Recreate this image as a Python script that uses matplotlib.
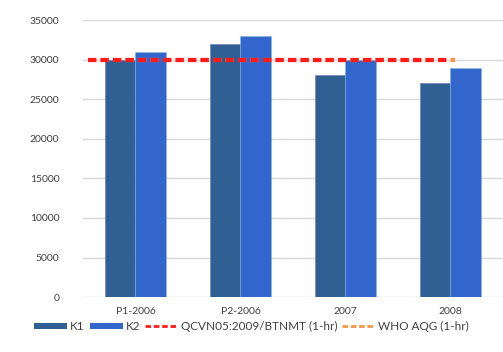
import matplotlib
matplotlib.use("Agg")
import matplotlib.pyplot as plt
import numpy as np
from matplotlib.patches import Patch
from matplotlib.lines import Line2D

categories = ["P1-2006", "P2-2006", "2007", "2008"]
k1 = [30000, 32000, 28000, 27000]
k2 = [31000, 33000, 30000, 29000]
qcvn = 30000
who = 30000

plt.rcParams['font.family'] = ['Lato', 'DejaVu Sans']

fig = plt.figure(figsize=(5.03, 3.52), dpi=100)
ax = fig.add_axes([0.165, 0.156, 0.835, 0.787])

x = np.arange(len(categories))
w = 0.29
c_k1 = "#2F5F93"
c_k2 = "#3366CC"
ax.bar(x - w / 2, k1, w, color=c_k1, edgecolor="#6E78B8", linewidth=0.4, zorder=2)
ax.bar(x + w / 2, k2, w, color=c_k2, edgecolor="#7FB8DA", linewidth=0.4, zorder=2)

ax.hlines(who, -0.45, 3.04, colors="#F79646", linestyles=(0, (2.0, 1.0)), linewidth=3, zorder=3)
ax.hlines(qcvn, -0.45, 2.97, colors="#FF1A1A", linestyles=(0, (2.0, 1.0)), linewidth=3, zorder=4)

ax.set_xlim(-0.5, 3.5)
ax.set_ylim(0, 35000)
ax.set_yticks(np.arange(0, 35001, 5000))
ax.set_xticks(x)
ax.set_xticklabels(categories)
ax.yaxis.grid(True, color="#D9D9D9", linewidth=1, zorder=0)
ax.set_axisbelow(True)
for s in ax.spines.values():
    s.set_visible(False)
ax.tick_params(length=0, labelsize=7.5, colors="#404040")
ax.tick_params(axis="y", pad=17)
ax.tick_params(axis="x", pad=7)

handles = [
    Patch(facecolor=c_k1, label="K1"),
    Patch(facecolor=c_k2, label="K2"),
    Line2D([], [], color="#FF1A1A", linestyle=(0, (2.0, 1.0)), linewidth=2, label="QCVN05:2009/BTNMT (1-hr)"),
    Line2D([], [], color="#F79646", linestyle=(0, (2.0, 1.0)), linewidth=2, label="WHO AQG (1-hr)"),
]
fig.legend(handles=handles, loc="center", bbox_to_anchor=(0.5, 0.072), ncol=4, frameon=False,
           fontsize=8.5, handlelength=2.8, handleheight=0.5, handletextpad=0.25, columnspacing=0.4,
           labelcolor="#404040")

fig.savefig("out.png", dpi=100)
